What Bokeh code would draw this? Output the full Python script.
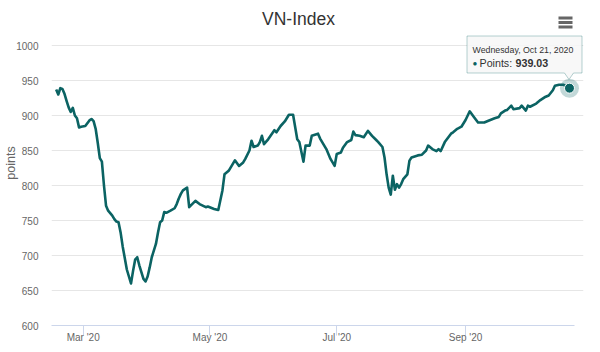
import math
from datetime import datetime
from bokeh.plotting import figure
from bokeh.models import (Range1d, FixedTicker, DatetimeTickFormatter, Label,
                          BoxAnnotation, PolyAnnotation, ColumnDataSource)
from bokeh.embed import file_html
from bokeh.resources import INLINE

# ---------------- data ----------------
dates = [
    "2020-02-17", "2020-02-18", "2020-02-19", "2020-02-20", "2020-02-21", "2020-02-22",
    "2020-02-23", "2020-02-24", "2020-02-25", "2020-02-26", "2020-02-27", "2020-02-28",
    "2020-02-29", "2020-03-02", "2020-03-03", "2020-03-04", "2020-03-05", "2020-03-06",
    "2020-03-07", "2020-03-08", "2020-03-09", "2020-03-10", "2020-03-11", "2020-03-12",
    "2020-03-13", "2020-03-15", "2020-03-16", "2020-03-17", "2020-03-18", "2020-03-19",
    "2020-03-20", "2020-03-22", "2020-03-24", "2020-03-25", "2020-03-26", "2020-03-27",
    "2020-03-28", "2020-03-30", "2020-03-31", "2020-04-01", "2020-04-02", "2020-04-03",
    "2020-04-05", "2020-04-06", "2020-04-07", "2020-04-08", "2020-04-09", "2020-04-10",
    "2020-04-12", "2020-04-14", "2020-04-15", "2020-04-16", "2020-04-17", "2020-04-18",
    "2020-04-20", "2020-04-21", "2020-04-24", "2020-04-26", "2020-04-29", "2020-04-30",
    "2020-05-03", "2020-05-05", "2020-05-07", "2020-05-08", "2020-05-10", "2020-05-13",
    "2020-05-15", "2020-05-17", "2020-05-18", "2020-05-20", "2020-05-21", "2020-05-22",
    "2020-05-24", "2020-05-25", "2020-05-26", "2020-05-27", "2020-05-29", "2020-06-01",
    "2020-06-02", "2020-06-04", "2020-06-06", "2020-06-08", "2020-06-10", "2020-06-12",
    "2020-06-13", "2020-06-15", "2020-06-16", "2020-06-18", "2020-06-19", "2020-06-22",
    "2020-06-23", "2020-06-25", "2020-06-26", "2020-06-28", "2020-06-30", "2020-07-01",
    "2020-07-03", "2020-07-04", "2020-07-06", "2020-07-08", "2020-07-09", "2020-07-10",
    "2020-07-12", "2020-07-14", "2020-07-16", "2020-07-18", "2020-07-20", "2020-07-21",
    "2020-07-23", "2020-07-24", "2020-07-25", "2020-07-26", "2020-07-27", "2020-07-28",
    "2020-07-29", "2020-07-30", "2020-07-31", "2020-08-01", "2020-08-02", "2020-08-04",
    "2020-08-05", "2020-08-06", "2020-08-09", "2020-08-11", "2020-08-13", "2020-08-14",
    "2020-08-16", "2020-08-18", "2020-08-19", "2020-08-20", "2020-08-22", "2020-08-25",
    "2020-08-26", "2020-08-28", "2020-08-30", "2020-09-01", "2020-09-03", "2020-09-05",
    "2020-09-07", "2020-09-10", "2020-09-12", "2020-09-15", "2020-09-17", "2020-09-18",
    "2020-09-20", "2020-09-21", "2020-09-23", "2020-09-24", "2020-09-27", "2020-09-28",
    "2020-09-30", "2020-10-01", "2020-10-02", "2020-10-05", "2020-10-07", "2020-10-09",
    "2020-10-11", "2020-10-13", "2020-10-14", "2020-10-16", "2020-10-18", "2020-10-21",
]
points = [
    937, 930, 939, 938, 931, 921,
    911.6, 905, 911, 900, 896, 883,
    884, 885, 889, 893, 895, 892,
    881, 861, 839, 834, 800, 771,
    764, 757, 752, 748.5, 747.5, 733,
    713, 680, 660, 678, 694, 697.5,
    686, 666.5, 663, 670, 683, 697.5,
    716.5, 733, 747.5, 750, 762, 761,
    764, 767.5, 773.5, 781.5, 788, 793,
    797, 769, 778, 773.5, 769, 770,
    766.5, 765, 793, 816, 821, 836,
    828, 833, 838, 850, 864, 855,
    857, 862, 871, 859, 866, 879,
    876, 885, 891.5, 901, 901, 866,
    862, 834, 857, 857, 871, 874,
    867, 857, 852, 838, 828, 845,
    847, 854, 862, 865, 877, 872,
    871, 869, 878, 871, 865, 862,
    855, 840, 816, 797, 787, 814,
    794, 802, 797, 802, 809, 816,
    835.5, 840, 843, 844, 850, 857,
    852, 849, 852, 849, 862, 874,
    876, 881, 884, 893.5, 906, 898,
    890, 890, 892.5, 896, 898, 903,
    907, 908, 914, 909, 910.5, 914,
    907, 914, 912.5, 917, 922, 926,
    928.5, 936, 942.5, 944, 944, 939.03,
]
y_ticks = [600, 650, 700, 750, 800, 850, 900, 950, 1000]
x_tick_dates = ["2020-03-01", "2020-05-01", "2020-07-01", "2020-09-01"]
title_text = "VN-Index"
y_title = "points"
series_name = "Points"

# ---------------- styling ----------------
TEAL = "#0b6363"
FONT = "Liberation Sans"
EPOCH = datetime(1970, 1, 1)


def to_ms(dt):
    return (dt - EPOCH).total_seconds() * 1000


xs = [datetime.strptime(d, "%Y-%m-%d") for d in dates]
src = ColumnDataSource(dict(x=xs, y=points))

# plot frame spans canvas x 51..583 and y 0..325 (axis line stops at x=574)
FL, FB = 51, 325
p = figure(width=600, height=352, x_axis_type="datetime",
           output_backend="svg", toolbar_location=None, title=None,
           min_border_left=FL, min_border_right=17, min_border_top=0,
           min_border_bottom=27)
x_start = datetime(2020, 2, 14, 18)
x_axis_end = datetime(2020, 10, 23, 10)
x_end = datetime(2020, 10, 27, 18)
p.x_range = Range1d(x_start, x_end)
p.y_range = Range1d(600, 1000 + 45 / 0.7)
p.outline_line_color = None
p.background_fill_color = "white"
p.border_fill_color = "white"

# grid
p.xgrid.grid_line_color = None
p.ygrid.grid_line_color = "#e6e6e6"
p.ygrid.grid_line_width = 1

# y axis
yax = p.yaxis[0]
yax.ticker = FixedTicker(ticks=y_ticks)
yax.axis_line_color = None
yax.major_tick_line_color = None
yax.minor_tick_line_color = None
yax.major_tick_out = 0
yax.major_tick_in = 0
yax.major_label_standoff = 13
yax.major_label_text_font = FONT
yax.major_label_text_font_size = "10px"
yax.major_label_text_color = "#666666"
yax.axis_label = y_title
yax.axis_label_standoff = -5
yax.axis_label_text_font = FONT
yax.axis_label_text_font_size = "12.5px"
yax.axis_label_text_font_style = "normal"
yax.axis_label_text_color = "#666666"

# x axis
xax = p.xaxis[0]
xax.ticker = FixedTicker(ticks=[to_ms(datetime.strptime(d, "%Y-%m-%d")) for d in x_tick_dates])
fmt = "%b '%y"
xax.formatter = DatetimeTickFormatter(milliseconds=fmt, seconds=fmt, minsec=fmt, minutes=fmt,
                                      hourmin=fmt, hours=fmt, days=fmt, months=fmt, years=fmt)
xax.bounds = (to_ms(x_start), to_ms(x_axis_end))
xax.axis_line_color = "#ccd6eb"
xax.major_tick_line_color = "#ccd6eb"
xax.minor_tick_line_color = None
xax.major_tick_in = 0
xax.major_tick_out = 10
xax.major_label_standoff = -4
xax.major_label_text_font = FONT
xax.major_label_text_font_size = "10px"
xax.major_label_text_color = "#666666"

# series
p.line("x", "y", source=src, line_color=TEAL, line_width=2.6, line_join="round")

# hovered last point
last = ColumnDataSource(dict(x=[xs[-1]], y=[points[-1]]))
p.scatter("x", "y", source=last, size=19, fill_color=TEAL, fill_alpha=0.25, line_color=None)
p.scatter("x", "y", source=last, size=10, fill_color=TEAL, line_color="white", line_width=1)

# ---------------- annotations (screen units relative to plot frame) ----------------


def sx(x):
    return x - FL


def sy(y):
    return FB - y


p.add_layout(Label(x=sx(298), y=sy(18), x_units="screen", y_units="screen", text=title_text,
                   text_align="center", text_baseline="middle", text_font=FONT,
                   text_font_size="17.5px", text_color="#333333"))

# context menu icon
for yc in (17.5, 22, 26.5):
    p.add_layout(BoxAnnotation(left=sx(558), right=sx(572), bottom=sy(yc + 1.5), top=sy(yc - 1.5),
                               left_units="screen", right_units="screen",
                               bottom_units="screen", top_units="screen",
                               fill_color="#666666", fill_alpha=1, line_color=None))

# tooltip
tx = [466.5, 581.5, 581.5, 573, 568.5, 564, 466.5]
ty = [35.5, 35.5, 72.5, 72.5, 79, 72.5, 72.5]
p.add_layout(PolyAnnotation(xs=[sx(v) for v in tx], ys=[sy(v) for v in ty],
                            xs_units="screen", ys_units="screen",
                            fill_color="#f7f7f7", fill_alpha=0.85,
                            line_color=TEAL, line_width=1))
last_dt = xs[-1]
header = f"{last_dt:%A}, {last_dt:%b} {last_dt.day}, {last_dt.year}"
p.add_layout(Label(x=sx(472), y=sy(49.5), x_units="screen", y_units="screen", text=header,
                   text_align="left", text_baseline="middle", text_font=FONT,
                   text_font_size="8.8px", text_color="#333333"))
p.add_layout(Label(x=sx(472), y=sy(62.5), x_units="screen", y_units="screen", text="\u25cf",
                   text_align="left", text_baseline="middle", text_font=FONT,
                   text_font_size="8px", text_color=TEAL))
p.add_layout(Label(x=sx(479), y=sy(62.5), x_units="screen", y_units="screen",
                   text=f"{series_name}: ", text_align="left", text_baseline="middle",
                   text_font=FONT, text_font_size="10.7px", text_color="#333333"))
p.add_layout(Label(x=sx(515), y=sy(62.5), x_units="screen", y_units="screen",
                   text=f"{points[-1]:.2f}", text_align="left", text_baseline="middle",
                   text_font=FONT, text_font_size="10.7px", text_font_style="bold",
                   text_color="#333333"))

open("out.html", "w").write(file_html(p, INLINE))
